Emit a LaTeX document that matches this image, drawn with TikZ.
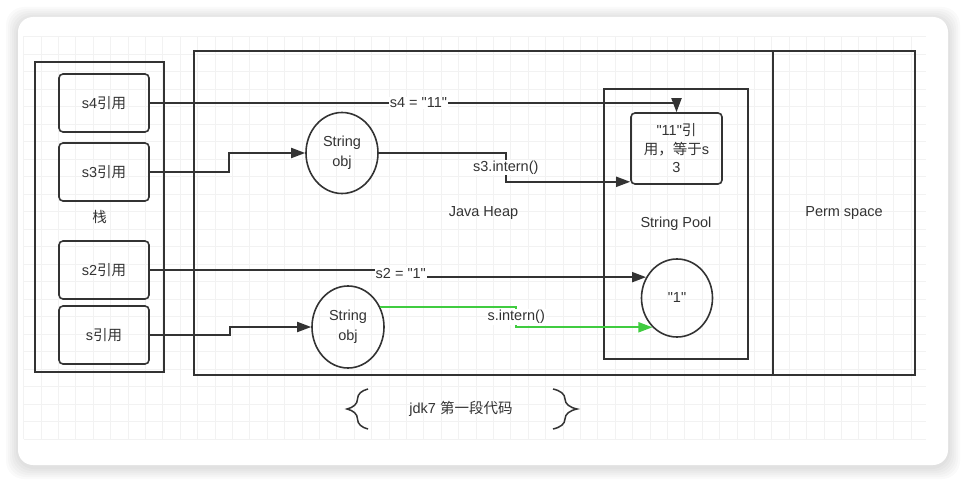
\documentclass[tikz,border=0pt]{standalone}
\usepackage{fontspec}
\setmainfont{Liberation Sans}[Ligatures=TeXOff]
\newfontfamily\cjk{Noto Sans CJK SC}
\newcommand{\zhtxt}[1]{{\cjk #1}}
\usetikzlibrary{arrows.meta,shapes.geometric,decorations.pathreplacing}
\definecolor{ink}{HTML}{333333}
\definecolor{gridline}{HTML}{F2F2F2}
\definecolor{greenref}{RGB}{64,204,64}

\begin{document}
\begin{tikzpicture}[x=1pt, y=-1pt,
    font=\fontsize{14.5}{18.5}\selectfont, text=ink,
    region/.style={draw=ink, line width=1.9pt, inner sep=0pt},
    refbox/.style={draw=ink, line width=1.6pt, rounded corners=4pt, minimum width=90pt, minimum height=58pt},
    strobj/.style={ellipse, draw=ink, line width=1.6pt, inner sep=0pt, align=center},
    conn/.style={draw=ink, line width=1.8pt, -{Triangle[length=14pt,width=10pt]}},
    lbl/.style={fill=white, text=ink, inner sep=1pt}]
    \useasboundingbox (0,0) rectangle (966,484);
    \foreach \d in {2,4,...,12}
        \fill[black, opacity=0.02, rounded corners=18pt] (18-\d,19-\d) rectangle (948+\d,467+\d);
    \fill[white, rounded corners=15pt] (18,17) rectangle (948,465);
    \foreach \gx in {0,...,51}
        \draw[gridline, line width=0.6pt] (23.5+17.4*\gx,36.5) -- (23.5+17.4*\gx,439);
    \foreach \gy in {0,...,23}
        \draw[gridline, line width=0.6pt] (23.5,36.5+17.5*\gy) -- (926,36.5+17.5*\gy);

    \node[region, minimum width=129pt, minimum height=310pt] (stack) at (99.5,217) {\zhtxt{栈}};
    \node[region, minimum width=579pt, minimum height=324pt] (heap) at (483.5,213) {Java Heap};
    \node[region, minimum width=142pt, minimum height=324pt] (perm) at (844,213) {Perm space};
    \node[region, minimum width=144pt, minimum height=270pt] (pool) at (676,224) {String Pool};

    \node[refbox] (s4) at (104,103) {s4\zhtxt{引用}};
    \node[refbox] (s3) at (104,172) {s3\zhtxt{引用}};
    \node[refbox] (s2) at (104,270) {s2\zhtxt{引用}};
    \node[refbox] (sref) at (104,335) {s\zhtxt{引用}};

    \node[strobj, minimum width=72pt, minimum height=81pt, font=\fontsize{14.5}{20}\selectfont] (obj1) at (342,153) {String\\obj};
    \node[strobj, minimum width=72pt, minimum height=82pt, font=\fontsize{14.5}{20}\selectfont] (obj2) at (348,327) {String\\obj};
    \node[refbox, minimum width=91pt, minimum height=71pt, align=center] (str11) at (676.5,148.5) {"11"\zhtxt{引}\\\zhtxt{用，等于}s\\3};
    \node[strobj, minimum width=71pt, minimum height=78pt] (one) at (677,298) {"1"};

    \draw[conn] (s4.east) -| node[lbl, pos=0.255] {s4 = "11"} (str11.north);
    \draw[conn] (s3.east) -- ++(79,0) |- (obj1.west);
    \draw[conn] (obj1.east) -- ++(127,0) |- node[lbl, pos=0.25] {s3.intern()} ([yshift=3pt]str11.south west);
    \draw[conn] (s2.east) -- ++(251,0) |- node[lbl, pos=0.25] {s2 = "1"} (one.146);
    \draw[conn] (sref.east) -- ++(80,0) |- (obj2.west);
    \draw[conn, draw=greenref] (obj2.32) -- ++(136,0) |- node[lbl, pos=0.25] {s.intern()} (one.230);

    \node (memo) at (461,409) {jdk7 \zhtxt{第一段代码}};
    \draw[ink, line width=1.5pt, decorate, decoration={brace, amplitude=21pt}] (368,429) -- (368,389);
    \draw[ink, line width=1.5pt, decorate, decoration={brace, amplitude=24pt}] (553,389) -- (553,429);
\end{tikzpicture}
\end{document}
